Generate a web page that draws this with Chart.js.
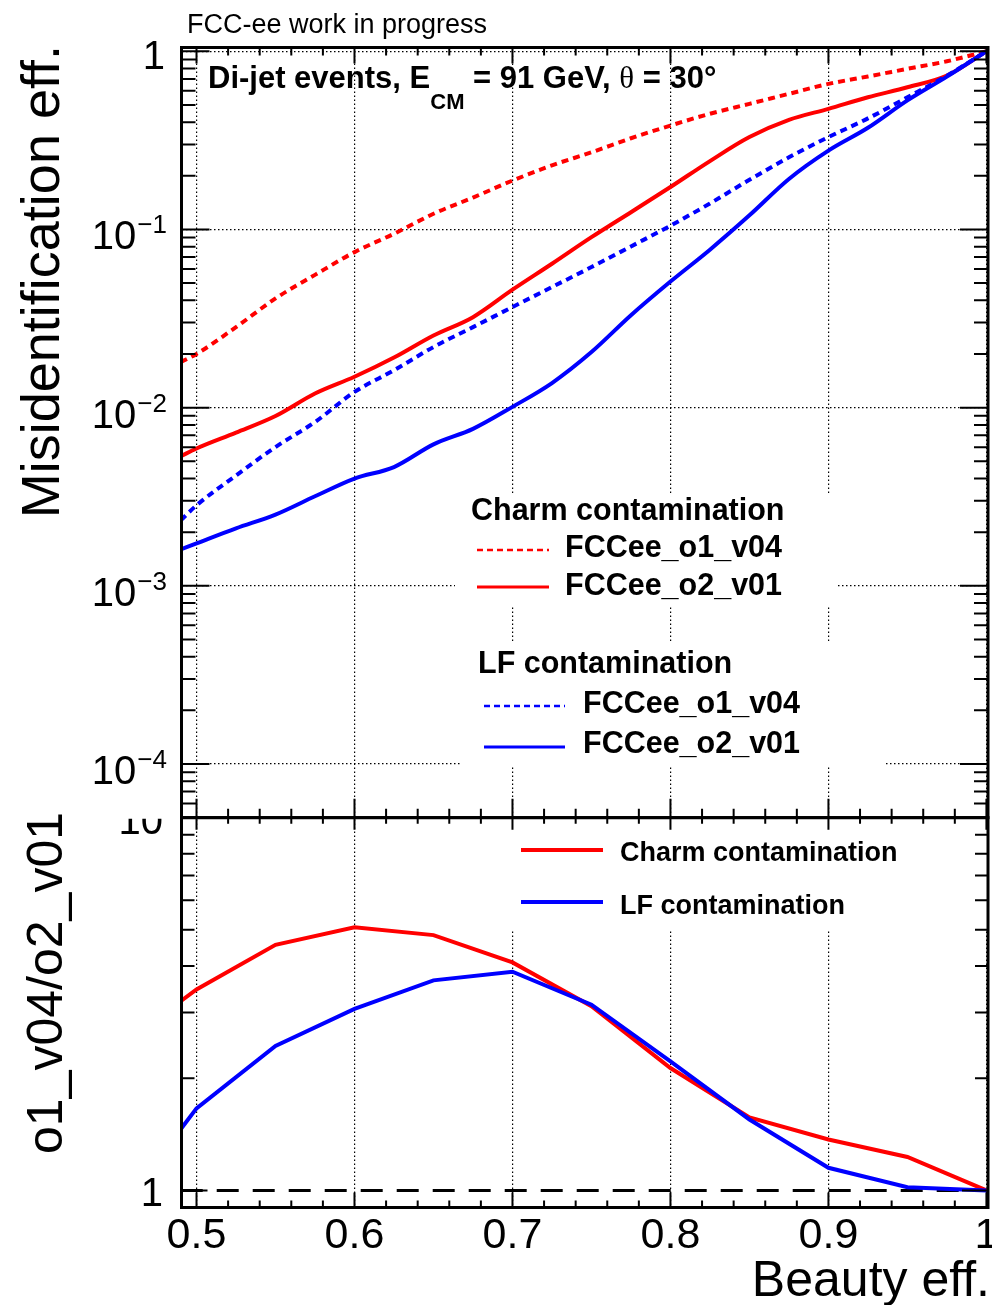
<!DOCTYPE html>
<html>
<head>
<meta charset="utf-8">
<script src="https://cdn.jsdelivr.net/npm/chart.js@4.4.1/dist/chart.umd.min.js"></script>
<style>
  html, body { margin: 0; padding: 0; background: #fff; }
  #wrap { position: relative; width: 992px; height: 1305px; background: #fff; }
</style>
</head>
<body>
<div id="wrap"><canvas id="roc" width="992" height="1305"></canvas></div>
<script>
// ---- data ------------------------------------------------------------
// beauty efficiency sampling for the mistag curves (upper pad)
const EFF = [0.49, 0.50, 0.525, 0.55, 0.575, 0.60, 0.625, 0.65, 0.675, 0.70, 0.725,
             0.75, 0.775, 0.80, 0.825, 0.85, 0.875, 0.90, 0.925, 0.95, 0.975, 1.0];
const CHARM_O1 = [0.018, 0.020, 0.0283, 0.041, 0.0556, 0.0746, 0.0946, 0.1225, 0.151, 0.188, 0.229,
                  0.271, 0.325, 0.383, 0.446, 0.507, 0.577, 0.656, 0.722, 0.797, 0.879, 1.0];
const CHARM_O2 = [0.00533, 0.0059, 0.00724, 0.00897, 0.0120, 0.0149, 0.0191, 0.0254, 0.0322, 0.0459, 0.0642,
                  0.0905, 0.125, 0.173, 0.242, 0.33, 0.412, 0.475, 0.552, 0.628, 0.731, 1.0];
const LF_O1 = [0.00233, 0.00283, 0.00416, 0.00601, 0.0083, 0.01225, 0.0162, 0.0219, 0.0283, 0.0367, 0.0475,
               0.0615, 0.0803, 0.105, 0.140, 0.19, 0.254, 0.33, 0.42, 0.552, 0.73, 1.0];
const LF_O2 = [0.0016, 0.00173, 0.0021, 0.00251, 0.00318, 0.0040, 0.00464, 0.00622, 0.0076, 0.0101, 0.01374,
               0.0205, 0.033, 0.051, 0.077, 0.12, 0.192, 0.277, 0.372, 0.53, 0.721, 1.0];

// ratio o1_v04 / o2_v01 (lower pad)
const RATIO_EFF = [0.49, 0.50, 0.55, 0.60, 0.65, 0.70, 0.75, 0.80, 0.85, 0.90, 0.95, 1.0];
const RATIO_CHARM = [3.22, 3.46, 4.56, 5.08, 4.84, 4.09, 3.12, 2.13, 1.57, 1.37, 1.23, 1.0];
const RATIO_LF = [1.46, 1.66, 2.44, 3.07, 3.66, 3.86, 3.15, 2.22, 1.55, 1.15, 1.02, 1.0];
const UNITY_EFF = [0.49, 1.0];
const UNITY = [1, 1];

// axis ticks
const X_TICKS = [0.5, 0.6, 0.7, 0.8, 0.9, 1.0];
const X_TICK_LABELS = ['0.5', '0.6', '0.7', '0.8', '0.9', '1'];
const Y_DECADES = [1, 1e-1, 1e-2, 1e-3, 1e-4];
const Y_EXPONENTS = [0, -1, -2, -3, -4];
const RATIO_TICKS = [1, 10];
const RATIO_TICK_LABELS = ['1', '10'];

// ---- styling ----------------------------------------------------------
const RED = '#ff0000';
const BLUE = '#0000ff';
const SANS = "'Liberation Sans', Arial, Helvetica, sans-serif";
const SERIF = "'Liberation Serif', 'DejaVu Serif', serif";
const DOTS = [7, 5];

Chart.defaults.font.family = SANS;
Chart.defaults.color = '#000';

const pts = (xs, ys) => xs.map((x, i) => ({ x, y: ys[i] }));

// first dataset is painted last (on top)
const datasets = [
  { label: 'LF FCCee_o2_v01', data: pts(EFF, LF_O2), yAxisID: 'y', borderColor: BLUE, borderWidth: 4, cubicInterpolationMode: 'monotone' },
  { label: 'LF FCCee_o1_v04', data: pts(EFF, LF_O1), yAxisID: 'y', borderColor: BLUE, borderWidth: 4, borderDash: DOTS, cubicInterpolationMode: 'monotone' },
  { label: 'Charm FCCee_o2_v01', data: pts(EFF, CHARM_O2), yAxisID: 'y', borderColor: RED, borderWidth: 4, cubicInterpolationMode: 'monotone' },
  { label: 'Charm FCCee_o1_v04', data: pts(EFF, CHARM_O1), yAxisID: 'y', borderColor: RED, borderWidth: 4, borderDash: DOTS, cubicInterpolationMode: 'monotone' },
  { label: 'LF ratio', data: pts(RATIO_EFF, RATIO_LF), yAxisID: 'y2', borderColor: BLUE, borderWidth: 4 },
  { label: 'Charm ratio', data: pts(RATIO_EFF, RATIO_CHARM), yAxisID: 'y2', borderColor: RED, borderWidth: 4 },
  { label: 'unity', data: pts(UNITY_EFF, UNITY), yAxisID: 'y2', borderColor: '#000', borderWidth: 3, borderDash: [22, 14] },
];

const byLabel = (chart, label) => chart.data.datasets.find((d) => d.label === label);

function sample(ctx, ds, x1, x2, y, width) {
  ctx.save();
  ctx.strokeStyle = ds.borderColor;
  ctx.lineWidth = width;
  ctx.setLineDash(ds.borderDash ? [6, 4] : []);
  ctx.beginPath();
  ctx.moveTo(x1, y);
  ctx.lineTo(x2, y);
  ctx.stroke();
  ctx.restore();
}

function text(ctx, str, x, y, font, align) {
  ctx.font = font;
  ctx.textAlign = align || 'left';
  ctx.textBaseline = 'alphabetic';
  ctx.fillText(str, x, y);
  return ctx.measureText(str).width;
}

/** ROOT-like legends, drawn over the grid like TLegend does */
function drawLegends(chart) {
  const ctx = chart.ctx;
  ctx.save();
  ctx.fillStyle = '#fff';
  ctx.fillRect(455, 493, 382, 112);
  ctx.fillRect(462, 642, 423, 125);
  ctx.fillRect(480, 819, 507, 112);

  ctx.fillStyle = '#000';
  const bold = 'bold 30.5px ' + SANS;
  text(ctx, 'Charm contamination', 471, 520, bold);
  sample(ctx, byLabel(chart, 'Charm FCCee_o1_v04'), 477, 549, 550, 2.5);
  text(ctx, 'FCCee_o1_v04', 565, 557, bold);
  sample(ctx, byLabel(chart, 'Charm FCCee_o2_v01'), 477, 549, 587, 3);
  text(ctx, 'FCCee_o2_v01', 565, 595, bold);

  text(ctx, 'LF contamination', 478, 673, bold);
  sample(ctx, byLabel(chart, 'LF FCCee_o1_v04'), 484, 565, 706, 2.5);
  text(ctx, 'FCCee_o1_v04', 583, 713, bold);
  sample(ctx, byLabel(chart, 'LF FCCee_o2_v01'), 484, 565, 747, 3);
  text(ctx, 'FCCee_o2_v01', 583, 753, bold);

  const bold2 = 'bold 27px ' + SANS;
  sample(ctx, byLabel(chart, 'Charm ratio'), 521, 603, 850, 4);
  text(ctx, 'Charm contamination', 620, 861, bold2);
  sample(ctx, byLabel(chart, 'LF ratio'), 521, 603, 902, 4);
  text(ctx, 'LF contamination', 620, 914, bold2);
  ctx.restore();
}

/** frame, inward tick marks on all sides, log labels with superscripts, titles */
function drawFrame(chart) {
  const { ctx, chartArea: ca, scales } = chart;
  const { x, y, y2 } = scales;
  const L = ca.left, R = ca.right;
  const T = y.top, M = y.bottom, B = y2.bottom;

  ctx.save();
  ctx.strokeStyle = '#000';
  ctx.lineCap = 'butt';

  // tick marks
  ctx.lineWidth = 2;
  ctx.beginPath();
  for (let k = 50; k <= 100; k += 2) {
    const px = x.getPixelForValue(k / 100);
    const major = k % 10 === 0;
    ctx.moveTo(px, T); ctx.lineTo(px, T + (major ? 16 : 8));
    ctx.moveTo(px, M); ctx.lineTo(px, M - (major ? 19 : 9));
    ctx.moveTo(px, M); ctx.lineTo(px, M + (major ? 12 : 6));
    ctx.moveTo(px, B); ctx.lineTo(px, B - (major ? 15 : 7));
  }
  for (let d = -5; d <= 0; d++) {
    for (let m = 1; m <= 9; m++) {
      const v = m * Math.pow(10, d);
      if (v < y.min || v > y.max) continue;
      const py = y.getPixelForValue(v);
      const len = m === 1 ? 28 : 14;
      ctx.moveTo(L, py); ctx.lineTo(L + len, py);
      ctx.moveTo(R, py); ctx.lineTo(R - len, py);
    }
  }
  for (let d = -1; d <= 1; d++) {
    for (let m = 1; m <= 9; m++) {
      const v = m * Math.pow(10, d);
      if (v < y2.min || v > y2.max) continue;
      const py = y2.getPixelForValue(v);
      const len = m === 1 ? 26 : 13;
      ctx.moveTo(L, py); ctx.lineTo(L + len, py);
      ctx.moveTo(R, py); ctx.lineTo(R - len, py);
    }
  }
  ctx.stroke();

  // pad frames
  ctx.lineWidth = 3;
  ctx.strokeRect(L, T, R - L, M - T);
  ctx.strokeRect(L, M, R - L, B - M);

  // y labels of the upper pad: 1, 10^-1 ...
  ctx.fillStyle = '#000';
  Y_DECADES.forEach((v, i) => {
    const py = y.getPixelForValue(v);
    const e = Y_EXPONENTS[i];
    if (e === 0) {
      text(ctx, '1', 165, py + 18, '40px ' + SANS, 'right');
      return;
    }
    const w = text(ctx, '\u2212' + Math.abs(e), 167, py + 4, '26px ' + SANS, 'right');
    text(ctx, '10', 167 - w - 1, py + 20, '40px ' + SANS, 'right');
  });

  // y labels of the ratio pad (the "10" is cut by the upper pad)
  ctx.save();
  ctx.beginPath();
  ctx.rect(0, M + 1, L - 5, B);
  ctx.clip();
  RATIO_TICKS.forEach((v, i) => {
    text(ctx, RATIO_TICK_LABELS[i], 163, y2.getPixelForValue(v) + 16, '40px ' + SANS, 'right');
  });
  ctx.restore();

  // titles
  text(ctx, 'FCC-ee work in progress', 187, 33, '27px ' + SANS);
  text(ctx, 'Beauty eff.', 990, 1296, '50px ' + SANS, 'right');

  ctx.save();
  ctx.translate(59, 45);
  ctx.rotate(-Math.PI / 2);
  text(ctx, 'Misidentification eff.', 0, 0, '54px ' + SANS, 'right');
  ctx.restore();

  ctx.save();
  ctx.translate(62, 812);
  ctx.rotate(-Math.PI / 2);
  text(ctx, 'o1_v04/o2_v01', 0, 0, '50px ' + SANS, 'right');
  ctx.restore();

  // process label
  let cx = 208;
  cx += text(ctx, 'Di-jet events, E', cx, 88, 'bold 31px ' + SANS);
  cx += text(ctx, 'CM', cx, 109, 'bold 22px ' + SANS);
  cx += text(ctx, ' = 91 GeV, ', cx, 88, 'bold 31px ' + SANS);
  cx += text(ctx, '\u03b8', cx, 88, '31px ' + SERIF);
  text(ctx, ' = 30\u00b0', cx, 88, 'bold 31px ' + SANS);

  ctx.restore();
}

const rootPads = {
  id: 'rootPads',
  afterDatasetsDraw: drawLegends,
  afterDraw: drawFrame,
};

const gridDots = { display: false, dash: [1.5, 2.5] };

new Chart(document.getElementById('roc'), {
  type: 'line',
  data: { datasets },
  options: {
    responsive: false,
    animation: false,
    devicePixelRatio: 1,
    elements: { point: { radius: 0 }, line: { tension: 0, borderCapStyle: 'butt' } },
    layout: { autoPadding: false, padding: { top: 47.5, right: 4, bottom: 0, left: 0 } },
    plugins: { legend: { display: false }, tooltip: { enabled: false } },
    scales: {
      // stacked scales are placed bottom-up: ratio pad first
      y2: {
        type: 'logarithmic',
        position: 'left',
        stack: 'pads',
        stackWeight: 390.1,
        min: 0.9,
        max: 10,
        ticks: { display: false },
        grid: { display: false },
        border: { display: false },
        afterBuildTicks: (s) => { s.ticks = RATIO_TICKS.map((value) => ({ value })); },
        afterFit: (s) => { s.width = 181.5; },
      },
      y: {
        type: 'logarithmic',
        position: 'left',
        stack: 'pads',
        stackWeight: 770.6,
        min: 5e-5,
        max: 1.05,
        ticks: { display: false },
        grid: { color: '#000', lineWidth: 1.2, drawTicks: false },
        border: gridDots,
        afterBuildTicks: (s) => { s.ticks = Y_DECADES.map((value) => ({ value })); },
        afterFit: (s) => { s.width = 181.5; },
      },
      x: {
        type: 'linear',
        position: 'bottom',
        min: 0.4905,
        max: 1.001,
        grid: { color: '#000', lineWidth: 1.2, drawTicks: false },
        border: gridDots,
        ticks: {
          padding: 3,
          maxRotation: 0,
          autoSkip: false,
          font: { size: 43 },
          callback: (v) => X_TICK_LABELS[X_TICKS.findIndex((t) => Math.abs(t - v) < 1e-6)],
        },
        afterBuildTicks: (s) => { s.ticks = X_TICKS.map((value) => ({ value })); },
        afterFit: (s) => { s.height = 97.5; s.paddingLeft = 0; s.paddingRight = 0; },
      },
    },
  },
  plugins: [rootPads],
});
</script>
</body>
</html>
